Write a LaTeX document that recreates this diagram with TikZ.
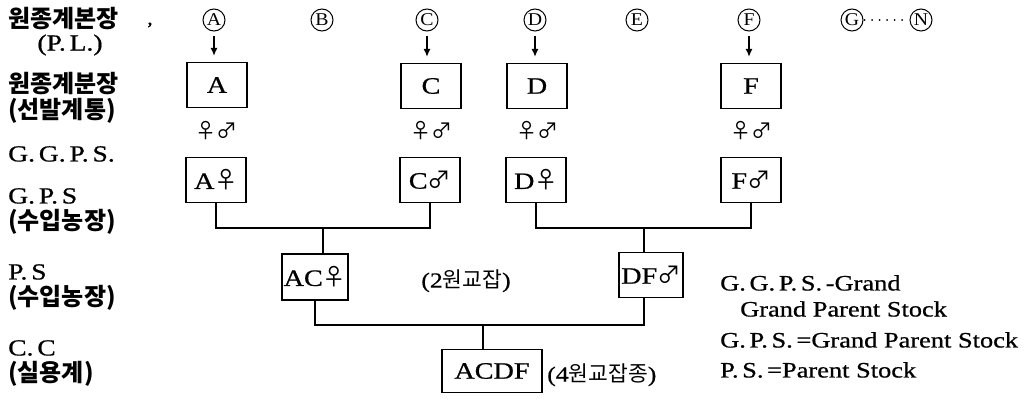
\documentclass[tikz,border=0pt]{standalone}
\usepackage{fontspec}
\setmainfont{Liberation Serif}[FakeStretch=1.2, FakeBold=0.7]
\newfontfamily\circf{Liberation Serif}[FakeStretch=1.1]
\newfontfamily\kr{Noto Sans CJK KR}
\usetikzlibrary{arrows.meta,calc}
\tikzset{
  lat/.style={font=\fontsize{23}{26}\selectfont},
  leg/.style={font=\fontsize{22}{25}\selectfont, anchor=west, inner sep=0pt},
  krb/.style={font=\kr\bfseries\fontsize{24}{28}\selectfont, anchor=west, inner sep=0pt},
  krn/.style={font=\fontsize{21.5}{24}\selectfont, inner sep=0pt},
  side/.style={font=\fontsize{23}{26}\selectfont, anchor=west, inner sep=0pt},
  circ/.style={circle, draw, line width=1pt, inner sep=0pt, minimum size=22pt,
               font=\circf\fontsize{18}{18}\selectfont},
  box/.style={draw, line width=1.1pt, minimum width=60pt, minimum height=45pt, inner sep=0pt,
              font=\fontsize{23.5}{26}\selectfont},
  sex/.style={font=\kr\fontsize{21}{24}\selectfont, inner sep=0pt},
  feed/.style={line width=1.5pt, -{Latex[length=8pt,width=7pt]}, shorten <=4pt, shorten >=6pt},
  link/.style={line width=1.1pt}
}
\begin{document}
\begin{tikzpicture}[x=1pt,y=-1pt]
\useasboundingbox (0,0) rectangle (1034,399);

% generation labels down the left side
\node[krb] (l1) at (8,19) {원종계본장};
\node[lat, inner sep=0pt] (l2) at (70,45) {(P.\,L.)};
\node[krb] (l3) at (8,84) {원종계분장};
\node[krb] (l4) at (8,111) {(선발계통)};
\node[side] (l5) at (8,154) {G.\,G.\,P.\,S.};
\node[side] (l6) at (8,196) {G.\,P.\,S};
\node[krb] (l7) at (8,222) {(수입농장)};
\node[side] (l8) at (8,272) {P.\,S};
\node[krb] (l9) at (8,298) {(수입농장)};
\node[side] (l10) at (8,348) {C.\,C};
\node[krb] (l11) at (8,374) {(실용계)};
\node[font=\fontsize{18}{18}\selectfont, inner sep=0pt] (cm) at (150,25) {,};

% pure lines
\node[circ] (cA) at (214,20) {A};
\node[circ] (cB) at (322,20) {B};
\node[circ] (cC) at (427,20) {C};
\node[circ] (cD) at (535,20) {D};
\node[circ] (cE) at (637,20) {E};
\node[circ] (cF) at (749,20) {F};
\node[circ] (cG) at (852,20) {G};
\node[circ] (cN) at (921,20) {N};
\draw[line width=2pt, line cap=round, dash pattern=on 0pt off 7.5pt, shorten <=1pt, shorten >=4pt]
  (cG.east) -- (cN.west);

% selected lines
\node[box] (A) at (217,85) {A};
\node[box] (C) at (431,86) {C};
\node[box] (D) at (537,86) {D};
\node[box] (F) at (751,86) {F};
\foreach \c/\b in {cA/A, cC/C, cD/D, cF/F}
  \draw[feed] (\c.south) -- (\c.south |- \b.north);

\node[sex] (sA) at (216,131) {♀♂};
\node[sex] (sC) at (431,131) {♀♂};
\node[sex] (sD) at (537,131) {♀♂};
\node[sex] (sF) at (751,131) {♀♂};

% grand parent stock
\node[box] (Af) at (216,180) {A{\kr ♀}};
\node[box] (Cm) at (430,180) {C{\kr ♂}};
\node[box] (Df) at (536,180) {D{\kr ♀}};
\node[box] (Fm) at (751,180) {F{\kr ♂}};

% parent stock
\node[box, minimum width=66pt, minimum height=46pt] (AC) at (315,277) {AC{\kr ♀}};
\node[box, minimum width=64pt] (DF) at (651,275) {DF{\kr ♂}};
\node[krn] (two) at (466,281) {(2{\kr 원교잡})};

% commercial cross
\node[box, minimum width=100pt, minimum height=43pt] (ACDF) at (492,371) {ACDF};
\node[krn, anchor=west] (four) at (547,375) {(4{\kr 원교잡종})};

% crossing lines
\coordinate (j1) at (323,228);
\coordinate (j2) at (644,228);
\coordinate (j3) at (483,325);
\draw[link] (Af.south) |- (j1) -| (Cm.south);
\draw[link] (j1) -- (j1 |- AC.north);
\draw[link] (Df.south) |- (j2) -| (Fm.south);
\draw[link] (j2) -- (j2 |- DF.north);
\draw[link] (AC.south) |- (j3) -| (j2 |- DF.south);
\draw[link] (j3) -- (j3 |- ACDF.north);

% abbreviations
\node[leg] (g1) at (720,283) {G.\,G.\,P.\,S.\,-Grand};
\node[leg] (g2) at (740,309) {Grand Parent Stock};
\node[leg] (g3) at (720,340) {G.\,P.\,S.\,=Grand Parent Stock};
\node[leg] (g4) at (720,370) {P.\,S.\,=Parent Stock};
\end{tikzpicture}
\end{document}
